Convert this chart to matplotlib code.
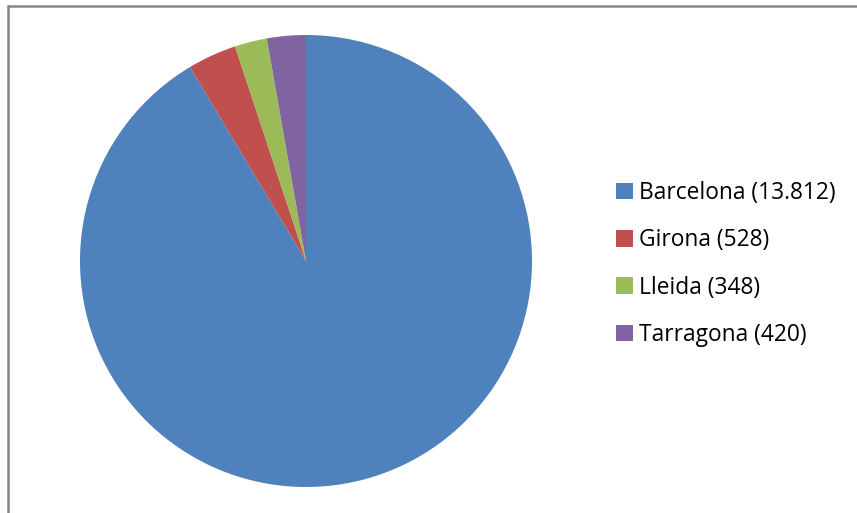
import matplotlib.pyplot as plt
from matplotlib.patches import Rectangle

provinces = ["Barcelona", "Girona", "Lleida", "Tarragona"]
counts = [13812, 528, 348, 420]
count_labels = ["13.812", "528", "348", "420"]
colors = ["#4F81BD", "#C0504D", "#9BBB59", "#8064A2"]

W, H = 857, 513
fig = plt.figure(figsize=(W / 100, H / 100), dpi=100)

# chart frame (right and bottom edges are cut off in the original)
fig.patches.append(Rectangle((8 / W, -0.1), 1.1, (H - 6) / H + 0.1,
                             transform=fig.transFigure, fill=False,
                             edgecolor="#868686", linewidth=1.8))

cx, cy, r = 306, H - 261, 226
ax = fig.add_axes([(cx - r) / W, (cy - r) / H, 2 * r / W, 2 * r / H])
wedges, _ = ax.pie(counts, colors=colors, startangle=90, counterclock=False,
                   radius=1, wedgeprops=dict(linewidth=0))
ax.set_xlim(-1, 1)
ax.set_ylim(-1, 1)
ax.axis("off")

labels = [f"{p} ({c})" for p, c in zip(provinces, count_labels)]
fig.legend(wedges, labels, loc="upper left",
           bbox_to_anchor=(607 / W, 1 - 172 / H),
           frameon=False, prop={"family": "Open Sans", "size": 16.4},
           handlelength=0.72, handleheight=0.72, handletextpad=0.3,
           labelspacing=1.02, borderaxespad=0)

fig.savefig("out.png", dpi=100)
